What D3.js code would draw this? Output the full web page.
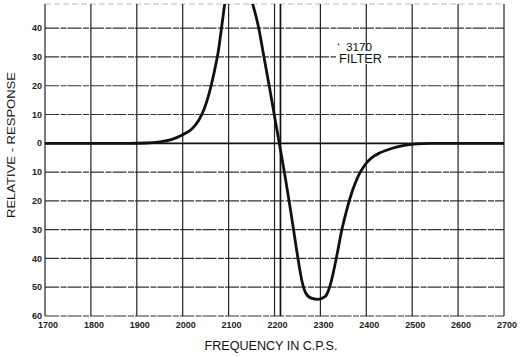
<!DOCTYPE html>
<html><head><meta charset="utf-8">
<script src="https://cdn.jsdelivr.net/npm/d3@7"></script>
<style>html,body{margin:0;padding:0;background:#fff;}svg{display:block;}</style>
</head><body>
<svg id="chart" width="520" height="357"></svg>
<script>
// ---- data ----
const freq = [1700,1800,1880,1920,1950,1975,2000,2020,2035,2047,2057,2067,2078,2087,2095,2110,2122,2135,2152,2165,2177,2189,2200,2211,2222,2232,2241,2252,2260,2268,2280,2295,2310,2320,2328,2337,2346,2356,2366,2376,2386,2398,2412,2430,2455,2480,2510,2540,2600,2700];
const resp = [0,0,0,0.1,0.5,1.3,3.0,5.0,8.0,12,17,23.5,32.4,43,52,58,60,57,48.6,40.5,30,19.5,9.5,-0.5,-10.5,-20.2,-29.5,-40.9,-48,-52,-53.8,-54.2,-53.3,-50,-45,-38,-30.6,-24,-18.3,-13.8,-10.3,-7.3,-5,-3.3,-1.8,-0.8,-0.2,0,0,0];
const xTicks = [1700,1800,1900,2000,2100,2200,2300,2400,2500,2600,2700];
const yTicks = [40,30,20,10,0,-10,-20,-30,-40,-50,-60];
const markerFreq = [2213];
const xTitle = "FREQUENCY IN C.P.S.";
const yTitle = "RELATIVE - RESPONSE";
const noteLines = ["3170","FILTER"];

// ---- drawing ----
const svg = d3.select("#chart");
const x = d3.scaleLinear().domain([1700,2700]).range([45,504]);
const y = d3.scaleLinear().domain([-60,48.4]).range([316,4]);
const font = "'Liberation Sans', Arial, sans-serif";

// top border (faint)
svg.append("line").attr("x1",x(1700)).attr("x2",x(2700)).attr("y1",y(48.4)).attr("y2",y(48.4))
  .attr("stroke","#bbb").attr("stroke-width",1).attr("stroke-dasharray","6,3");

// horizontal grid
svg.append("g").selectAll("line").data(yTicks).join("line")
  .attr("x1",x(1700)).attr("x2",x(2700))
  .attr("y1",d=>y(d)).attr("y2",d=>y(d))
  .attr("stroke",d=>d===0?"#111":"#333")
  .attr("stroke-width",d=>d===0?1.8:1.2)
  .attr("stroke-dasharray",d=>d===0?null:"14,1.5,6,1");

// vertical grid
svg.append("g").selectAll("line").data(xTicks).join("line")
  .attr("x1",d=>x(d)).attr("x2",d=>x(d))
  .attr("y1",y(48.4)).attr("y2",y(-60))
  .attr("stroke","#222").attr("stroke-width",1.2);

// marker line
svg.append("g").selectAll("line").data(markerFreq).join("line")
  .attr("x1",d=>x(d)).attr("x2",d=>x(d))
  .attr("y1",y(48.4)).attr("y2",y(-60))
  .attr("stroke","#111").attr("stroke-width",1.7);

// clip
svg.append("clipPath").attr("id","plotclip").append("rect")
  .attr("x",x(1700)).attr("y",y(48.4)).attr("width",x(2700)-x(1700)).attr("height",y(-60)-y(48.4));

const line = d3.line().x((d,i)=>x(freq[i])).y(d=>y(d)).curve(d3.curveMonotoneX);
svg.append("path").datum(resp).attr("d",line)
  .attr("fill","none").attr("stroke","#111").attr("stroke-width",2.8)
  .attr("stroke-linejoin","round")
  .attr("clip-path","url(#plotclip)");

// y tick labels
svg.append("g").selectAll("text").data(yTicks).join("text")
  .attr("x",42).attr("y",d=>y(d)).attr("dy","0.35em")
  .attr("text-anchor","end").attr("font-family",font).attr("font-weight","bold")
  .attr("font-size",9).attr("fill","#222").text(d=>Math.abs(d));

// x tick labels
svg.append("g").selectAll("text").data(xTicks).join("text")
  .attr("x",d=>x(d)+3).attr("y",328)
  .attr("text-anchor","middle").attr("font-family",font).attr("font-weight","bold")
  .attr("font-size",9).attr("fill","#222").text(d=>d);

// axis titles
svg.append("text").attr("x",271).attr("y",350).attr("text-anchor","middle")
  .attr("font-family",font).attr("font-size",12.5).attr("fill","#111")
  .attr("textLength",133).attr("lengthAdjust","spacingAndGlyphs").text(xTitle);
svg.append("text").attr("transform","translate(15,145) rotate(-90)").attr("text-anchor","middle")
  .attr("font-family",font).attr("font-size",10).attr("fill","#111")
  .attr("textLength",146).attr("lengthAdjust","spacingAndGlyphs").text(yTitle);

// annotation
svg.append("rect").attr("x",336).attr("y",51).attr("width",52).attr("height",13).attr("fill","#fff");
svg.append("circle").attr("cx",338.5).attr("cy",44.5).attr("r",0.9).attr("fill","#444");
svg.append("text").attr("x",346).attr("y",50.5).attr("font-family",font).attr("font-size",11.5)
  .attr("fill","#111").attr("textLength",26).attr("lengthAdjust","spacingAndGlyphs").text(noteLines[0]);
svg.append("text").attr("x",339).attr("y",63).attr("font-family",font).attr("font-size",12.5)
  .attr("fill","#111").attr("textLength",43).attr("lengthAdjust","spacingAndGlyphs").text(noteLines[1]);
</script>
</body></html>
